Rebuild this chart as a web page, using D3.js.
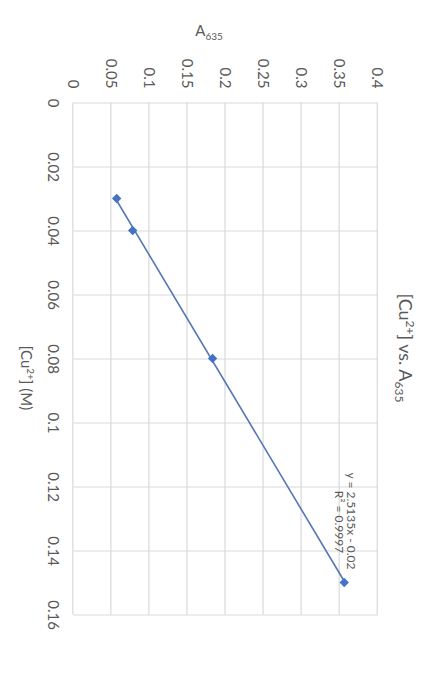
<!DOCTYPE html>
<html><head><meta charset="utf-8">
<script src="https://cdn.jsdelivr.net/npm/d3@7"></script>
<style>body{margin:0;background:#fff}svg{display:block}text{font-family:Lato,"Open Sans",sans-serif;fill:#595959}</style>
</head><body>
<script>
const cuValues = [0.03, 0.04, 0.08, 0.15];
const a635Values = [0.057, 0.078, 0.183, 0.356];
const xTicks = [0, 0.02, 0.04, 0.06, 0.08, 0.1, 0.12, 0.14, 0.16];
const xTickLabels = ["0","0.02","0.04","0.06","0.08","0.1","0.12","0.14","0.16"];
const yTicks = [0, 0.05, 0.1, 0.15, 0.2, 0.25, 0.3, 0.35, 0.4];
const yTickLabels = ["0","0.05","0.1","0.15","0.2","0.25","0.3","0.35","0.4"];
const trendSlope = 2.5135, trendIntercept = -0.02;
const eqLines = ["y = 2.5135x - 0.02", "R² = 0.9997"];

const svg = d3.select("body").append("svg").attr("width",432).attr("height",700);
svg.append("rect").attr("width",432).attr("height",700).attr("fill","#fff");
// chart drawn in its own frame then rotated 90° clockwise
const g = svg.append("g").attr("transform","translate(432,0) rotate(90)");

const x = d3.scaleLinear().domain([0,0.16]).range([102.5,614.5]);
const y = d3.scaleLinear().domain([0,0.4]).range([358.7,54.3]);
const grid = "#d9d9d9";

const xa = g.append("g").attr("transform",`translate(0,${y(0)})`)
  .call(d3.axisBottom(x).tickValues(xTicks).tickSize(-(y(0)-y(0.4))).tickPadding(15)
    .tickFormat((d,i)=>xTickLabels[i]));
const ya = g.append("g").attr("transform",`translate(${x(0)},0)`)
  .call(d3.axisLeft(y).tickValues(yTicks).tickSize(-(x(0.16)-x(0))).tickPadding(14)
    .tickFormat((d,i)=>yTickLabels[i]));
[xa,ya].forEach(a=>{
  a.select(".domain").remove();
  a.selectAll("line").attr("stroke",grid).attr("stroke-width",1.2);
  a.selectAll("text").attr("font-size",15).attr("fill","#595959").style("font-family","Lato");
});

// trendline
const x0 = d3.min(cuValues), x1 = d3.max(cuValues);
g.append("line")
  .attr("x1",x(x0)).attr("y1",y(trendSlope*x0+trendIntercept))
  .attr("x2",x(x1)).attr("y2",y(trendSlope*x1+trendIntercept))
  .attr("stroke","#5577b5").attr("stroke-width",1.6);

// markers
g.selectAll("path.pt").data(cuValues).join("path").attr("class","pt")
  .attr("d",d3.symbol(d3.symbolSquare,44))
  .attr("transform",(d,i)=>`translate(${x(d)},${y(a635Values[i])}) rotate(45)`)
  .attr("fill","#4472C4");

// equation label
const eq = g.append("text").attr("text-anchor","middle").attr("font-size",12);
eq.append("tspan").attr("x",521).attr("y",85).text(eqLines[0]);
eq.append("tspan").attr("x",522).attr("y",97.5).text(eqLines[1]);

// title
const t = g.append("text").attr("x",348).attr("y",33).attr("text-anchor","middle").attr("font-size",18);
t.append("tspan").text("[Cu");
t.append("tspan").attr("font-size",12).attr("dy",-7).text("2+");
t.append("tspan").attr("dy",7).text("] vs. A");
t.append("tspan").attr("font-size",12).attr("dy",4).text("635");

// x axis title
const xt = g.append("text").attr("x",378).attr("y",411).attr("text-anchor","middle").attr("font-size",15);
xt.append("tspan").text("[Cu");
xt.append("tspan").attr("font-size",10).attr("dy",-6).text("2+");
xt.append("tspan").attr("dy",6).text("] (M)");

// y axis title (rotated in chart frame)
const yt = g.append("text").attr("transform",`translate(36,223) rotate(-90)`).attr("text-anchor","middle").attr("font-size",15);
yt.append("tspan").text("A");
yt.append("tspan").attr("font-size",10).attr("dy",4).text("635");
</script>
</body></html>
